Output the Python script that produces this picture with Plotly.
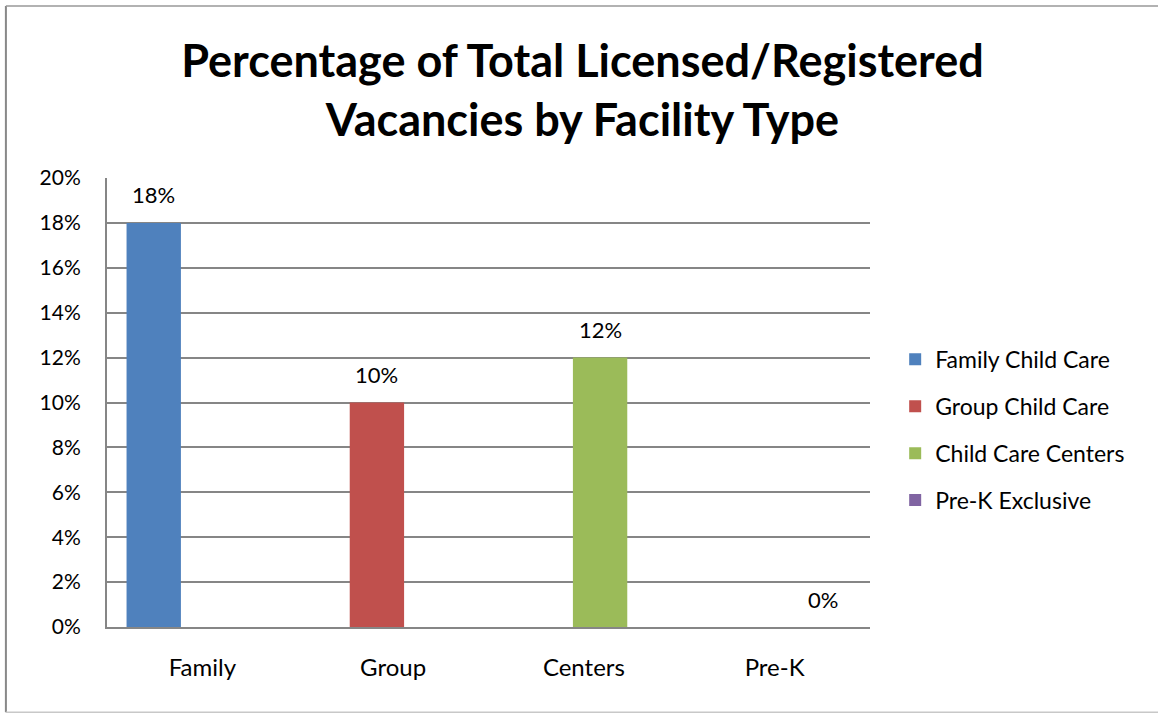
import plotly.graph_objects as go

categories = ["Family", "Group", "Centers", "Pre-K"]
series_names = ["Family Child Care", "Group Child Care", "Child Care Centers", "Pre-K Exclusive"]
series_values = [0.18, 0.10, 0.12, 0.0]
colors = ["#4F81BD", "#C0504D", "#9BBB59", "#8064A2"]
y_ticks = [0, 0.02, 0.04, 0.06, 0.08, 0.10, 0.12, 0.14, 0.16, 0.18, 0.20]

FONT = "Lato"
bar_w = 0.285
centers = [-0.255, -0.085, 0.085, 0.255]

fig = go.Figure()
annotations = []
for i, (name, val, col) in enumerate(zip(series_names, series_values, colors)):
    fig.add_trace(go.Bar(
        x=[categories[i]], y=[val], name=name,
        marker=dict(color=col, line=dict(width=0)),
        width=bar_w, offset=centers[i] - bar_w / 2,
        legendgroup=name,
    ))
    annotations.append(dict(
        x=i + centers[i], y=val, xref="x", yref="y",
        text=f"{val*100:.0f}%", showarrow=False, yshift=28,
        font=dict(family=FONT, size=22, color="#000000"),
    ))

shapes = [
    dict(type="line", xref="paper", yref="paper", x0=-0.1325, x1=-0.1325, y0=-0.19, y1=1.383,
         line=dict(color="#888888", width=2)),
    dict(type="line", xref="paper", yref="paper", x0=-0.1325, x1=1.4, y0=1.383, y1=1.383,
         line=dict(color="#999999", width=1.5)),
    dict(type="line", xref="paper", yref="paper", x0=-0.1325, x1=1.4, y0=-0.19, y1=-0.19,
         line=dict(color="#c8c8c8", width=1.5)),
]

fig.update_layout(
    width=1158, height=713,
    margin=dict(l=107, r=288, t=178, b=86),
    paper_bgcolor="white", plot_bgcolor="white",
    barmode="overlay",
    title=dict(text="<b>Percentage of Total Licensed/Registered<br>Vacancies by Facility Type</b>",
               x=0.503, xref="container", xanchor="center",
               y=0.892, yref="container", yanchor="middle",
               font=dict(family=FONT, size=45, color="#000000")),
    font=dict(family=FONT, size=22, color="#000000"),
    xaxis=dict(categoryorder="array", categoryarray=categories, range=[-0.5, 3.5],
               showgrid=False, showline=True, linecolor="#868686", linewidth=2,
               ticks="", ticklabelstandoff=18, tickfont=dict(size=24)),
    yaxis=dict(range=[0, 0.2], tickvals=y_ticks, tickformat=".0%",
               showgrid=True, gridcolor="#868686", gridwidth=1.5,
               showline=True, linecolor="#868686", linewidth=2,
               zeroline=False, ticks="", ticklabelstandoff=20, tickfont=dict(size=21)),
    legend=dict(x=1.033, xanchor="left", y=0.439, yanchor="middle",
                font=dict(family=FONT, size=23), tracegroupgap=14,
                itemwidth=30, bgcolor="rgba(0,0,0,0)"),
    annotations=annotations,
    shapes=shapes,
    showlegend=True,
)

fig.write_html("out.html", post_script="document.body.style.margin='0px';",
               config={"displayModeBar": False})
